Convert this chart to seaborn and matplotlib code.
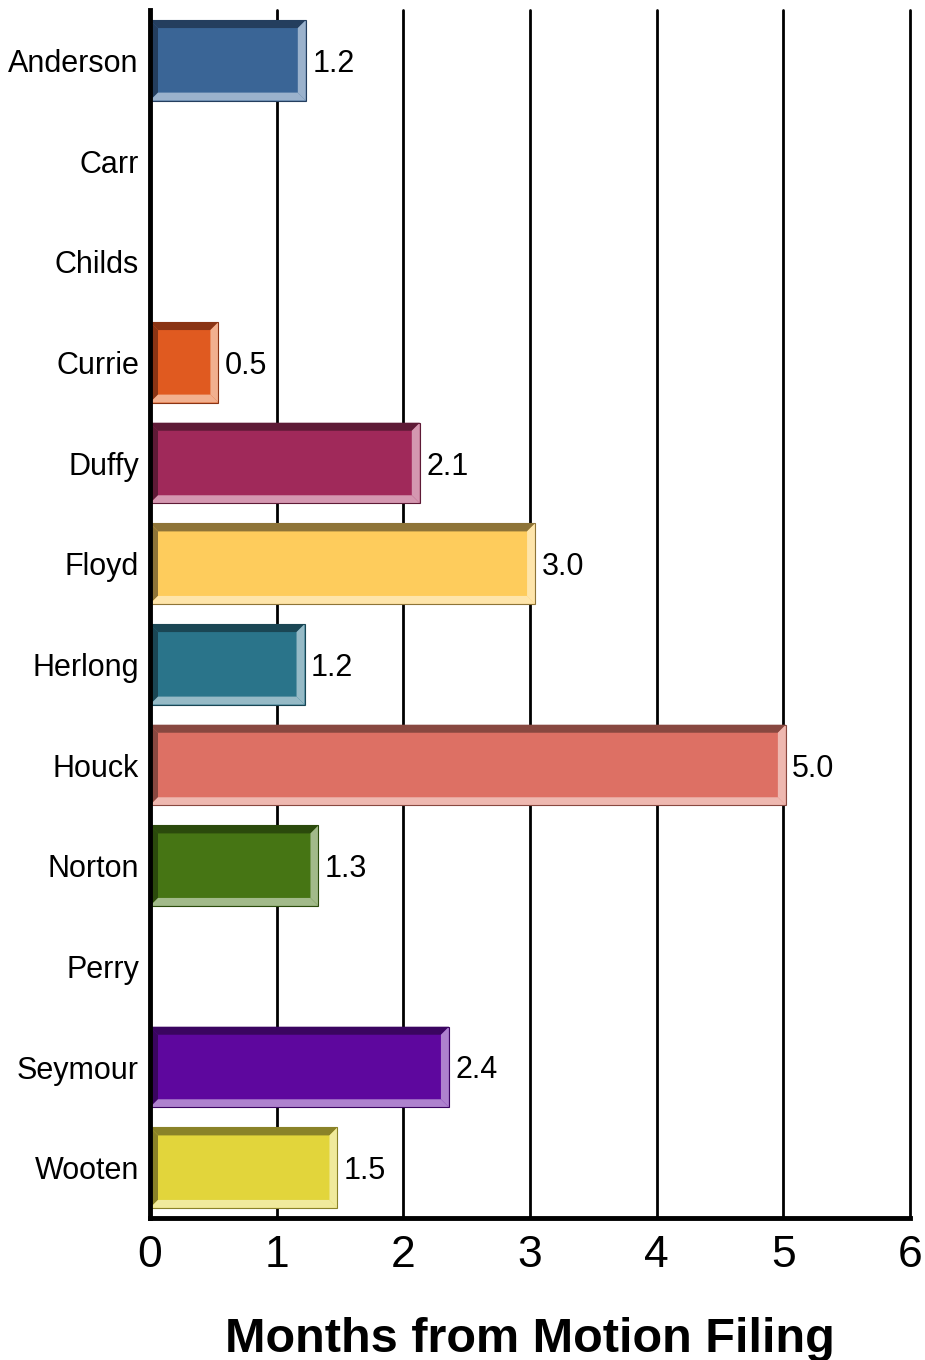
import numpy as np
import pandas as pd
import matplotlib
matplotlib.use('Agg')
import matplotlib.pyplot as plt
from matplotlib.patches import Polygon
import seaborn as sns

# data
judges = ['Anderson', 'Carr', 'Childs', 'Currie', 'Duffy', 'Floyd',
          'Herlong', 'Houck', 'Norton', 'Perry', 'Seymour', 'Wooten']
months = [1.23, 0.0, 0.0, 0.54, 2.13, 3.04, 1.22, 5.02, 1.33, 0.0, 2.36, 1.48]

main_colors = ['#3A6596', '#888888', '#888888', '#E05A20', '#A0295A', '#FECC5C',
               '#2A748A', '#DD7064', '#467514', '#888888', '#5E079E', '#E2D53B']
dark_colors = ['#243E5E', '#555555', '#555555', '#8A3414', '#5E1A36', '#8E7438',
               '#1A4654', '#884840', '#2B4A0C', '#555555', '#3A0560', '#8A8228']
light_colors = ['#9BB2CC', '#cccccc', '#cccccc', '#F2B08F', '#D497B0', '#FEE5AB',
                '#96BAC6', '#EEB8B0', '#A2BA8A', '#cccccc', '#AE82CE', '#F0EA9C']

df = pd.DataFrame({'judge': judges, 'months': months})

sns.set_style("white")
plt.rcParams['font.family'] = ['Liberation Sans', 'DejaVu Sans']
plt.rcParams['text.color'] = 'black'
plt.rcParams['xtick.color'] = 'black'
plt.rcParams['ytick.color'] = 'black'
plt.rcParams['axes.labelcolor'] = 'black'

fig = plt.figure(figsize=(9.25, 13.6), dpi=100)
ax = fig.add_axes([150 / 925, 1 - 1218 / 1360, 760 / 925, 1208 / 1360])

sns.barplot(data=df, x='months', y='judge', hue='judge', palette=main_colors,
            legend=False, orient='h', width=0.8, ax=ax, saturation=1,
            edgecolor='none', zorder=3)

ax.set_xlim(0, 6)
ax.set_ylim(11.5, -0.5)

# gridlines
for g in range(1, 7):
    ax.axvline(g, color='black', lw=2, zorder=1, clip_on=False)

# bevel, ~8 px thick
dx = 8 / (760 / 6)
dy = 8 / (1208 / 12)
for k, p in enumerate(ax.patches):
    v = p.get_width()
    if v <= 0:
        continue
    x0 = p.get_x()
    x1 = x0 + v
    y0 = p.get_y()
    y1 = y0 + p.get_height()
    top = min(y0, y1)
    bot = max(y0, y1)
    dk, lt = dark_colors[k], light_colors[k]
    ax.add_patch(Polygon([(x0, top), (x1, top), (x1 - dx, top + dy), (x0 + dx, top + dy)],
                         closed=True, color=dk, lw=0, zorder=4))
    ax.add_patch(Polygon([(x0, top), (x0 + dx, top + dy), (x0 + dx, bot - dy), (x0, bot)],
                         closed=True, color=dk, lw=0, zorder=4))
    ax.add_patch(Polygon([(x0, bot), (x0 + dx, bot - dy), (x1 - dx, bot - dy), (x1, bot)],
                         closed=True, color=lt, lw=0, zorder=4))
    ax.add_patch(Polygon([(x1, top), (x1, bot), (x1 - dx, bot - dy), (x1 - dx, top + dy)],
                         closed=True, color=lt, lw=0, zorder=4))
    ax.add_patch(plt.Rectangle((x0, top), v, bot - top, fill=False,
                               edgecolor=dk, lw=0.8, zorder=5))
    ax.text(x1 + 0.05, (top + bot) / 2, f"{v:.1f}", va='center_baseline', ha='left',
            fontsize=22, zorder=6)

for s in ['top', 'right']:
    ax.spines[s].set_visible(False)
for s in ['left', 'bottom']:
    ax.spines[s].set_linewidth(3.5)
    ax.spines[s].set_color('black')
    ax.spines[s].set_zorder(7)

ax.set_xticks(range(0, 7))
ax.tick_params(axis='x', length=0, labelsize=32, pad=12)
ax.tick_params(axis='y', length=0, labelsize=22, pad=8)
ax.set_ylabel('')
ax.set_xlabel('Months from Motion Filing', fontsize=35, fontweight='bold', labelpad=30)

fig.savefig('out.png', dpi=100)
